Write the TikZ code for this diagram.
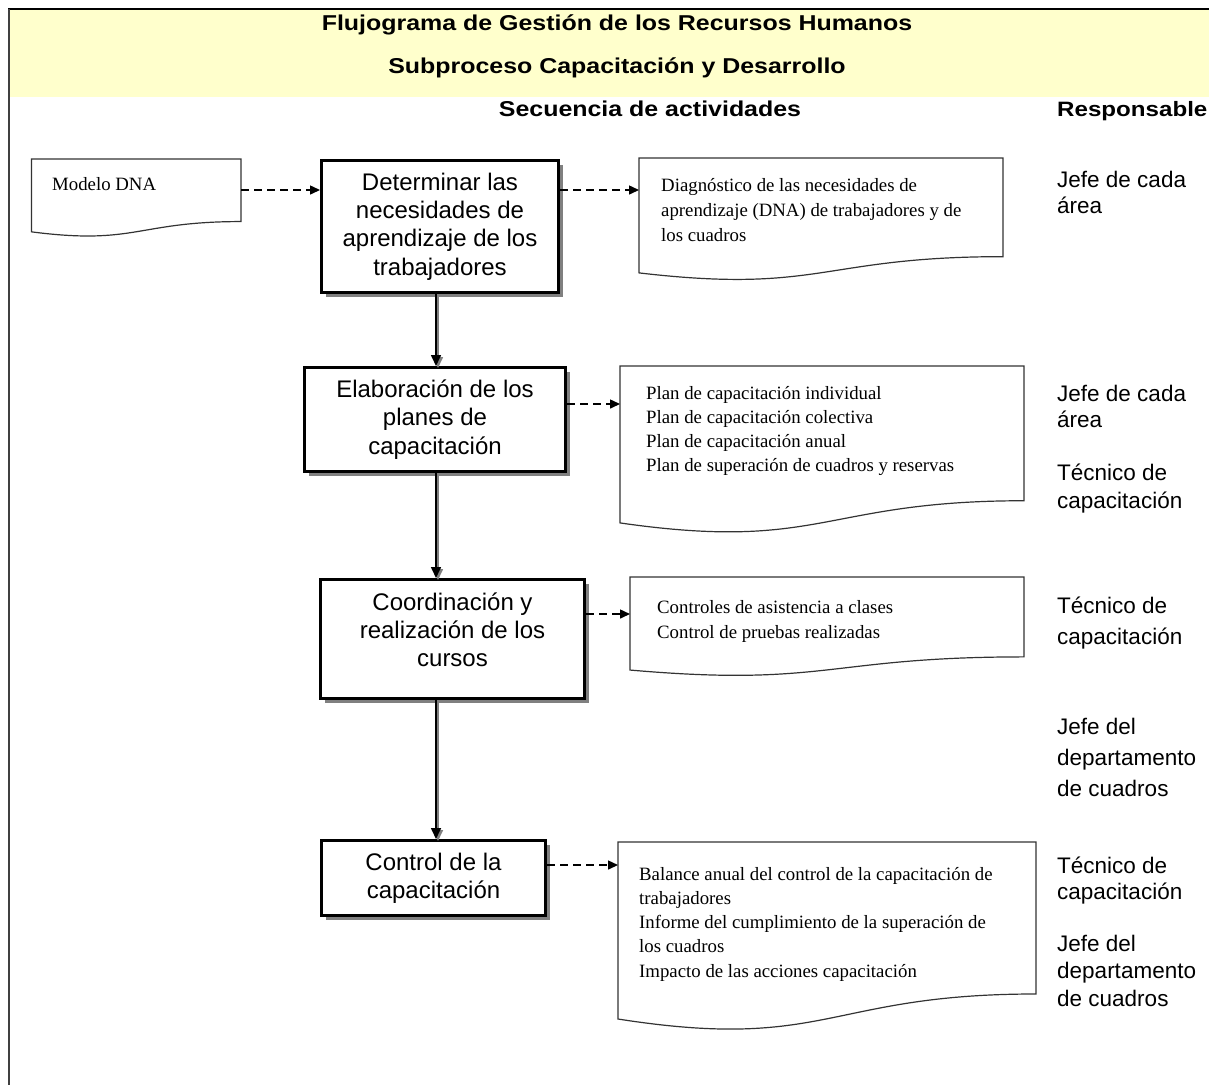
\documentclass[tikz,border=0pt]{standalone}
\usepackage{fontspec}
\setmainfont{Liberation Sans}
\newfontfamily\headfont{Liberation Sans}[FakeStretch=1.16]
\newfontfamily\docfont{Liberation Serif}
\usetikzlibrary{arrows.meta,shadows,calc}

\definecolor{headyellow}{RGB}{255,255,204}
\definecolor{shadowgray}{RGB}{128,128,128}

% stacked rows; the first row sits on the node's baseline
\newcommand\leftrows[2]{\vtop{\baselineskip=#1\relax\lineskiplimit=-20pt\relax\halign{##\hfil\cr#2\crcr}}}
\newcommand\centerrows[2]{\vtop{\baselineskip=#1\relax\lineskiplimit=-20pt\relax\halign{\hfil##\hfil\cr#2\crcr}}}

% flowchart "document" outline drawn over a named rectangle node
\newcommand\docoutline[1]{%
  \draw[docline] (#1.north west) -- (#1.north east)
    -- ($(#1.north east)!0.802!(#1.south east)$)
    .. controls ($(#1.north)!0.802!(#1.south)$) and ($(#1.north)!1.107!(#1.south)$)
    .. ($(#1.north west)!0.934!(#1.south west)$) -- cycle;}

\begin{document}
\begin{tikzpicture}[x=1pt,y=-1pt,
  procbox/.style={draw=black, line width=3pt, fill=white, inner sep=0pt,
    font=\fontsize{24}{28.3}\selectfont,
    drop shadow={shadow xshift=4pt, shadow yshift=-4pt, fill=shadowgray, opacity=1}},
  docshape/.style={inner sep=0pt, outer sep=0pt},
  docline/.style={draw=black!80, line width=1.2pt, fill=white},
  doctext/.style={anchor=base west, inner sep=0pt, font=\docfont\fontsize{18.8}{24.5}\selectfont},
  resp/.style={anchor=base west, inner sep=0pt, font=\fontsize{22.5}{26}\selectfont},
  headtext/.style={anchor=base, inner sep=0pt, font=\headfont\bfseries\fontsize{21.5}{25}\selectfont},
  flowline/.style={line width=1.6pt, -{Triangle[length=11pt,width=10pt]}},
  flowshadow/.style={flowline, draw=shadowgray, transform canvas={xshift=2pt,yshift=-2pt}},
  dashlink/.style={line width=1.5pt, dash pattern=on 8pt off 5pt, -{Triangle[length=10pt,width=9pt]}},
]
\useasboundingbox (0,0) rectangle (1209,1085);

% header band and frame
\fill[headyellow] (9,9) rectangle (1209,97);
\draw[line width=2pt] (8,9) -- (1209,9);
\draw[line width=2.5pt, black!75] (9,9) -- (9,1085);

\node[headtext] (title) at (617,30) {Flujograma de Gestión de los Recursos Humanos};
\node[headtext] (subtitle) at (617,73) {Subproceso Capacitación y Desarrollo};
\node[headtext] (seqhead) at (650,116) {Secuencia de actividades};
\node[headtext, anchor=base west, font=\headfont\bfseries\fontsize{20.8}{25}\selectfont] (resphead) at (1057,116) {Responsable};

% process steps
\node[procbox, minimum width=237pt, minimum height=132pt] (b1) at (440,226.5)
  {\centerrows{28.3pt}{Determinar las\cr necesidades de\cr aprendizaje de los\cr trabajadores}};
\node[procbox, minimum width=261pt, minimum height=104pt] (b2) at (435,419.5)
  {\centerrows{28.3pt}{Elaboración de los\cr planes de\cr capacitación}};
\node[procbox, minimum width=264pt, minimum height=119pt, text depth=75pt] (b3) at (452.5,639)
  {\centerrows{28.3pt}{Coordinación y\cr realización de los\cr cursos}};
\node[procbox, minimum width=224pt, minimum height=75pt] (b4) at (433.5,878)
  {\centerrows{28.3pt}{Control de la\cr capacitación}};

% documents
\node[docshape, minimum width=209.5pt, minimum height=78pt] (d0) at (136.25,198) {};
\node[docshape, minimum width=364pt, minimum height=123pt] (d1) at (821,219.5) {};
\node[docshape, minimum width=404pt, minimum height=168pt] (d2) at (822,450) {};
\node[docshape, minimum width=394pt, minimum height=99.6pt] (d3) at (827,626.8) {};
\node[docshape, minimum width=418pt, minimum height=189.5pt] (d4) at (827,936.75) {};
\foreach \d in {d0,d1,d2,d3,d4} {\docoutline{\d}}

\node[doctext] (d0t) at (52,190) {Modelo DNA};
\node[doctext] (d1t) at (661,191) {\leftrows{25pt}{Diagnóstico de las necesidades de\cr aprendizaje (DNA) de trabajadores y de\cr los cuadros}};
\node[doctext] (d2t) at (646,399) {\leftrows{24pt}{Plan de capacitación individual\cr Plan de capacitación colectiva\cr Plan de capacitación anual\cr Plan de superación de cuadros y reservas}};
\node[doctext] (d3t) at (657,613) {\leftrows{25pt}{Controles de asistencia a clases\cr Control de pruebas realizadas}};
\node[doctext] (d4t) at (639,880) {\leftrows{24.3pt}{Balance anual del control de la capacitación de\cr trabajadores\cr Informe del cumplimiento de la superación de\cr los cuadros\cr Impacto de las acciones capacitación}};

% responsible roles
\node[resp] (r1) at (1057,187) {\leftrows{26pt}{Jefe de cada\cr área}};
\node[resp] (r2) at (1057,401) {\leftrows{26pt}{Jefe de cada\cr área}};
\node[resp] (r3) at (1057,480) {\leftrows{28pt}{Técnico de\cr capacitación}};
\node[resp] (r4) at (1057,613) {\leftrows{31pt}{Técnico de\cr capacitación}};
\node[resp] (r5) at (1057,734) {\leftrows{31pt}{Jefe del\cr departamento\cr de cuadros}};
\node[resp] (r6) at (1057,873) {\leftrows{26pt}{Técnico de\cr capacitación}};
\node[resp] (r7) at (1057,951) {\leftrows{27.5pt}{Jefe del\cr departamento\cr de cuadros}};

% connectors
\coordinate (spine) at (436,0);
\coordinate (lvl1) at (0,190);
\coordinate (lvl2) at (0,404);
\coordinate (lvl3) at (0,614);
\coordinate (lvl4) at (0,865);

\foreach \a/\b in {b1/b2,b2/b3,b3/b4} {
  \draw[flowshadow] (\a.south -| spine) -- (\b.north -| spine);
  \draw[flowline] (\a.south -| spine) -- (\b.north -| spine);
}
\draw[dashlink] (d0.east |- lvl1) -- (b1.west |- lvl1);
\draw[dashlink] (b1.east |- lvl1) -- (d1.west |- lvl1);
\draw[dashlink] (b2.east |- lvl2) -- (d2.west |- lvl2);
\draw[dashlink] (b3.east |- lvl3) -- (d3.west |- lvl3);
\draw[dashlink] (b4.east |- lvl4) -- (d4.west |- lvl4);
\end{tikzpicture}
\end{document}
